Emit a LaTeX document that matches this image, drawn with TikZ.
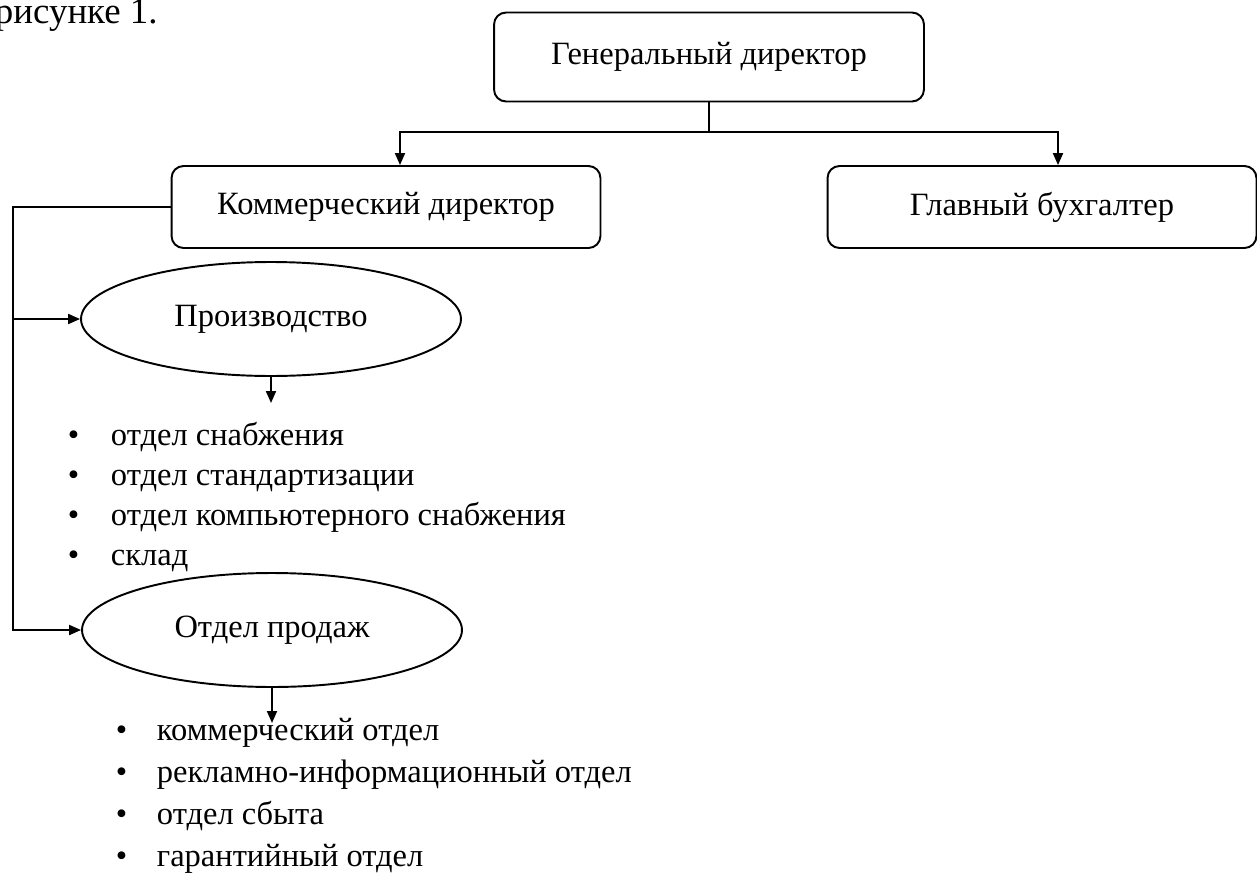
\documentclass[tikz,border=0pt]{standalone}
\usepackage{fontspec}
\setmainfont{Liberation Serif}
\usetikzlibrary{arrows.meta,shapes.geometric}

\newcommand{\punkt}[2]{\makebox[#1][l]{\textbullet}#2}

\begin{document}
\begin{tikzpicture}[x=0.02cm, y=-0.02cm, line width=1.1pt,
		font=\fontsize{18.5}{22}\selectfont,
		post/.style={draw, rounded corners=0.24cm, minimum width=8.58cm, minimum height=1.64cm},
		unit/.style={draw, ellipse, inner sep=0pt, minimum width=7.6cm, minimum height=2.28cm},
		item/.style={anchor=base west, inner sep=0pt},
		arr/.style={-{Triangle[length=0.24cm, width=0.2cm]}}]
		\useasboundingbox (0, 0) rectangle (1257, 872);

		\node[item, font=\fontsize{21}{25}\selectfont]	(ref) at (-6, 23) {рисунке 1.};

		% boxes
		\node[post, minimum width=8.6cm, minimum height=1.78cm]	(gen) at (709, 57) {Генеральный директор};
		\node[post]	(com) at (386, 207) {Коммерческий директор};
		\node[post]	(buh) at (1042, 207) {Главный бухгалтер};

		\coordinate	(bus) at (709, 132);
		\draw	(gen.south) to (bus);
		\draw[arr]	(bus) -| ([xshift=0.28cm]com.north);
		\draw[arr]	(bus) -| ([xshift=0.32cm]buh.north);

		% ellipses
		\node[unit]	(prod) at (271, 319) {Производство};
		\node[unit]	(sales) at (272, 630) {Отдел продаж};

		\coordinate	(rail) at (13, 0);
		\draw[arr]	(com.west) -| (rail |- sales.west) to (sales.west);
		\draw[arr]	(rail |- prod.west) to (prod.west);

		\coordinate	(prodend) at (275, 403);
		\coordinate	(salesend) at (275, 723);
		\draw[arr]	(prod.south) to (prod.south |- prodend);
		\draw[arr]	(sales.south) to (sales.south |- salesend);

		% lists
		\node[item]	(p1) at (67, 445) {\punkt{0.86cm}{отдел снабжения}};
		\node[item]	(p2) at (67, 485) {\punkt{0.86cm}{отдел стандартизации}};
		\node[item]	(p3) at (67, 525) {\punkt{0.86cm}{отдел компьютерного снабжения}};
		\node[item]	(p4) at (67, 565) {\punkt{0.86cm}{склад}};

		\node[item]	(s1) at (115, 740) {\punkt{0.82cm}{коммерческий отдел}};
		\node[item]	(s2) at (115, 782) {\punkt{0.82cm}{рекламно-информационный отдел}};
		\node[item]	(s3) at (115, 824) {\punkt{0.82cm}{отдел сбыта}};
		\node[item]	(s4) at (115, 866) {\punkt{0.82cm}{гарантийный отдел}};
	\end{tikzpicture}
\end{document}
